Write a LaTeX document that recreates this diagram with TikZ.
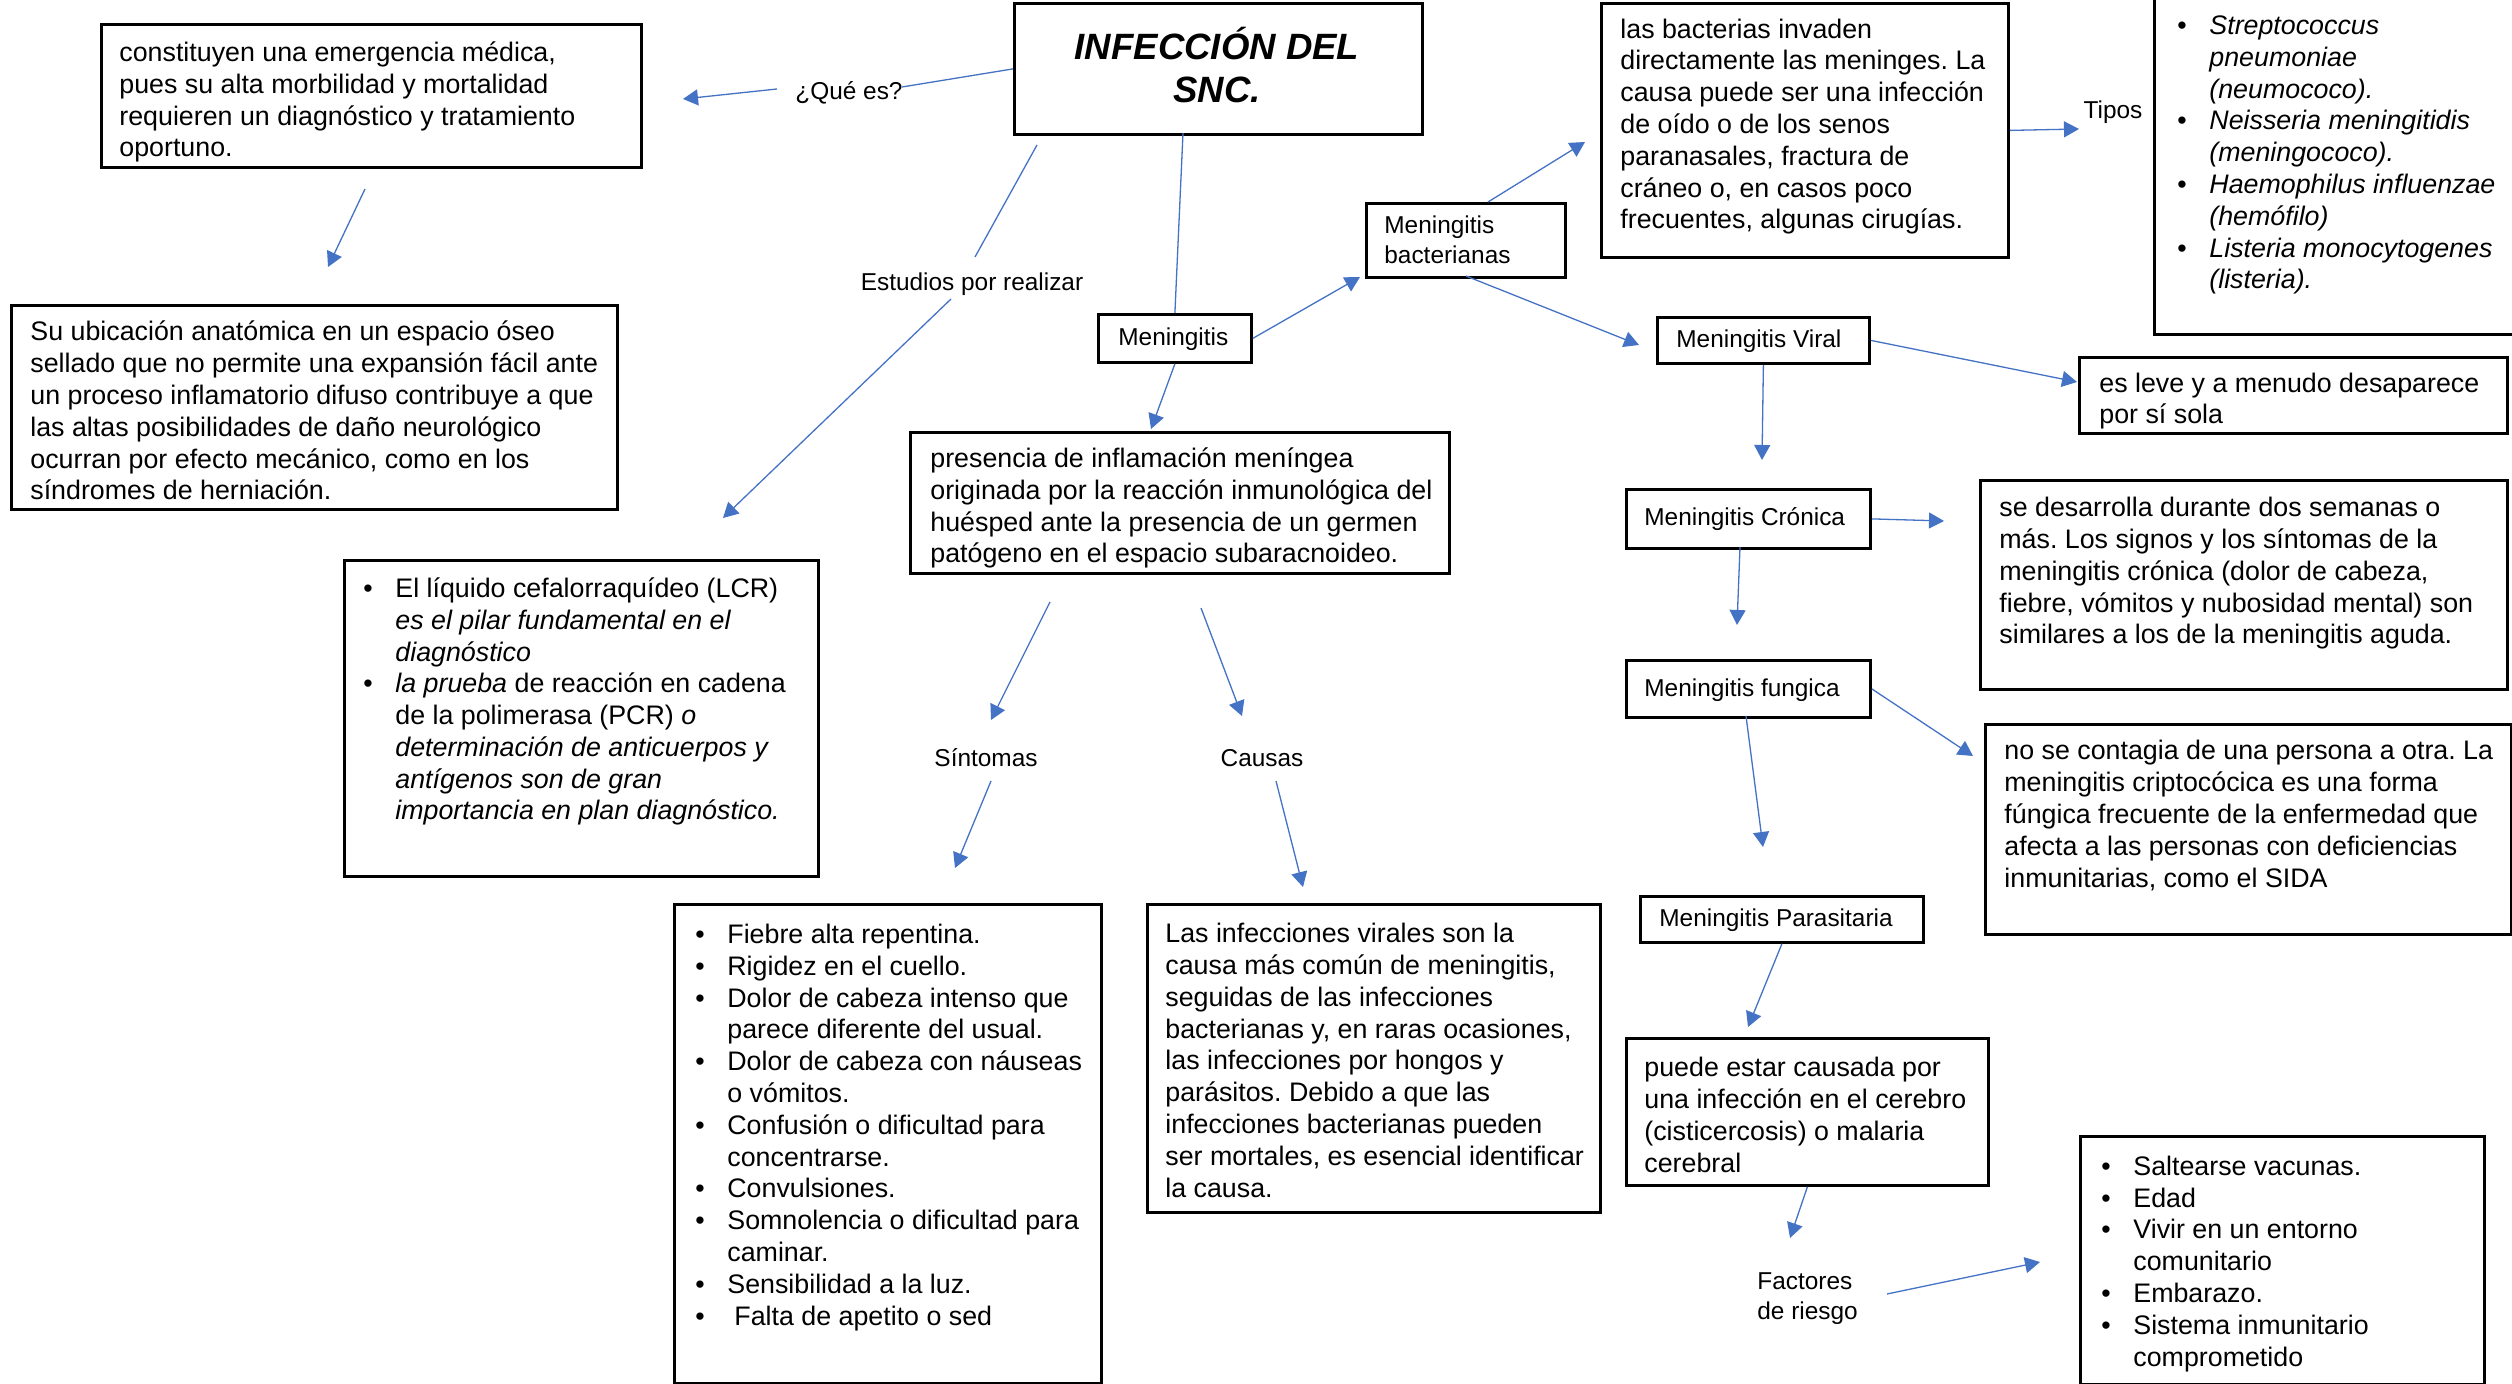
\documentclass[tikz,border=0pt]{standalone}
\usepackage{fontspec}
\setmainfont{Liberation Sans}
\usetikzlibrary{arrows.meta,calc}
\definecolor{conncol}{RGB}{68,114,196}
\newcommand\bodyfont{\fontsize{13.4pt}{15.9pt}\selectfont}
\newcommand\labfont{\fontsize{12.2pt}{15pt}\selectfont}
\newcommand\ttlfont{\fontsize{18.3pt}{21.5pt}\selectfont\bfseries\itshape}
\newcommand\bl{\makebox[16pt][l]{\textbullet}}
\newcommand\ind{\makebox[16pt][l]{}}
\newcommand\mkbox[5]{\node[boxy,minimum width={(#4-(#2))*0.5pt},minimum height={(#5-(#3))*0.5pt}] (#1) at (#2,#3) {};}
\tikzset{
  boxy/.style={draw=black,line width=1.4pt,fill=white,inner sep=0pt,anchor=north west},
  txt/.style={anchor=base west,inner sep=0pt,align=left,font=\bodyfont},
  lab/.style={anchor=base,inner sep=0pt,font=\labfont},
  labl/.style={anchor=base west,inner sep=0pt,align=left,font=\labfont},
  conn/.style={draw=conncol,line width=0.65pt},
  arr/.style={conn,-{Triangle[length=7.5pt,width=8pt]}}
}
\frenchspacing
\begin{document}
\frenchspacing
\begin{tikzpicture}[x=0.5pt,y=-0.5pt]
\clip (0,0) rectangle (2512,1384);
\fill[white] (0,0) rectangle (2512,1384);
% boxes
\mkbox{title}{1013}{2}{1421}{133}
\mkbox{bconst}{100}{23}{640}{166}
\mkbox{bubic}{10}{304}{616}{508}
\mkbox{bliq}{343}{559}{817}{875}
\mkbox{bmen}{1097}{313}{1250}{361}
\mkbox{bpres}{909}{431}{1448}{572}
\mkbox{bbact}{1365}{202}{1564}{276}
\mkbox{binv}{1600}{2}{2007}{256}
\mkbox{bstrep}{2153}{-10}{2530}{333}
\mkbox{bviral}{1656}{316}{1868}{362}
\mkbox{bleve}{2078}{356}{2506}{432}
\mkbox{bcron}{1625}{488}{1869}{547}
\mkbox{bdes}{1979}{479}{2506}{688}
\mkbox{bfung}{1625}{659}{1869}{716}
\mkbox{bcont}{1984}{723}{2510}{933}
\mkbox{bpara}{1639}{895}{1922}{941}
\mkbox{bpuede}{1625}{1037}{1987}{1184}
\mkbox{bsalt}{2079}{1135}{2483}{1383}
\mkbox{bfieb}{673}{903}{1100}{1382}
\mkbox{bcaus}{1146}{903}{1599}{1211}
% texts (anchored at the baseline of their last line)
\node[anchor=base,inner sep=0pt,align=center,font=\ttlfont] (ttl) at (1217,103) {INFECCIÓN DEL\\SNC.};
\node[txt] (tconst) at (119,157) {constituyen una emergencia médica,\\pues su alta morbilidad y mortalidad\\requieren un diagnóstico y tratamiento\\oportuno.};
\node[txt] (tubic) at (30,500) {Su ubicación anatómica en un espacio óseo\\sellado que no permite una expansión fácil ante\\un proceso inflamatorio difuso contribuye a que\\las altas posibilidades de daño neurológico\\ocurran por efecto mecánico, como en los\\síndromes de herniación.};
\node[txt] (tliq) at (363,820) {\bl El líquido cefalorraquídeo (LCR)\\\ind\textit{es el pilar fundamental en el}\\\ind\textit{diagnóstico}\\\bl\textit{la prueba} de reacción en cadena\\\ind de la polimerasa (PCR) \textit{o}\\\ind\textit{determinación de anticuerpos y}\\\ind\textit{antígenos son de gran}\\\ind\textit{importancia en plan diagnóstico.}};
\node[txt] (tpres) at (930,563) {presencia de inflamación meníngea\\originada por la reacción inmunológica del\\huésped ante la presencia de un germen\\patógeno en el espacio subaracnoideo.};
\node[txt] (tinv) at (1620,229) {las bacterias invaden\\directamente las meninges. La\\causa puede ser una infección\\de oído o de los senos\\paranasales, fractura de\\cráneo o, en casos poco\\frecuentes, algunas cirugías.};
\node[txt] (tstrep) at (2177,289) {\bl\textit{Streptococcus}\\\ind\textit{pneumoniae}\\\ind\textit{(neumococo).}\\\bl\textit{Neisseria meningitidis}\\\ind\textit{(meningococo).}\\\bl\textit{Haemophilus influenzae}\\\ind\textit{(hemófilo)}\\\bl\textit{Listeria monocytogenes}\\\ind\textit{(listeria).}};
\node[txt] (tleve) at (2099,424) {es leve y a menudo desaparece\\por sí sola};
\node[txt] (tdes) at (1999,644) {se desarrolla durante dos semanas o\\más. Los signos y los síntomas de la\\meningitis crónica (dolor de cabeza,\\fiebre, vómitos y nubosidad mental) son\\similares a los de la meningitis aguda.};
\node[txt] (tcont) at (2004,887) {no se contagia de una persona a otra. La\\meningitis criptocócica es una forma\\fúngica frecuente de la enfermedad que\\afecta a las personas con deficiencias\\inmunitarias, como el SIDA};
\node[txt] (tpuede) at (1644,1172) {puede estar causada por\\una infección en el cerebro\\(cisticercosis) o malaria\\cerebral};
\node[txt] (tsalt) at (2101,1366) {\bl Saltearse vacunas.\\\bl Edad\\\bl Vivir en un entorno\\\ind comunitario\\\bl Embarazo.\\\bl Sistema inmunitario\\\ind comprometido};
\node[txt] (tfieb) at (695,1325) {\bl Fiebre alta repentina.\\\bl Rigidez en el cuello.\\\bl Dolor de cabeza intenso que\\\ind parece diferente del usual.\\\bl Dolor de cabeza con náuseas\\\ind o vómitos.\\\bl Confusión o dificultad para\\\ind concentrarse.\\\bl Convulsiones.\\\bl Somnolencia o dificultad para\\\ind caminar.\\\bl Sensibilidad a la luz.\\\bl\hspace{3.5pt}Falta de apetito o sed};
\node[txt] (tcaus) at (1165,1197) {Las infecciones virales son la\\causa más común de meningitis,\\seguidas de las infecciones\\bacterianas y, en raras ocasiones,\\las infecciones por hongos y\\parásitos. Debido a que las\\infecciones bacterianas pueden\\ser mortales, es esencial identificar\\la causa.};
% small box labels
\node[labl] (lmen) at (1118,346) {Meningitis};
\node[labl] (lbact) at (1384,264) {Meningitis\\bacterianas};
\node[labl] (lviral) at (1676,348) {Meningitis Viral};
\node[labl] (lcron) at (1644,526) {Meningitis Crónica};
\node[labl] (lfung) at (1644,697) {Meningitis fungica};
\node[labl] (lpara) at (1659,927) {Meningitis Parasitaria};
% free labels
\node[lab] (que) at (849,100) {¿Qué es?};
\node[lab] (estud) at (972,291) {Estudios por realizar};
\node[lab] (tipos) at (2113,119) {Tipos};
\node[lab] (sint) at (986,767) {Síntomas};
\node[lab] (caus) at (1262,767) {Causas};
\node[labl] (fact) at (1757,1319) {Factores\\de riesgo};
% coordinates for free connector ends
\coordinate (qe1) at (902,87);
\coordinate (qe2) at (777,89);
\coordinate (qe3) at (683,99);
\coordinate (c1) at (365,189);
\coordinate (c2) at (328,267);
\coordinate (e1) at (1037,145);
\coordinate (e2) at (975,257);
\coordinate (e3) at (951,299);
\coordinate (e4) at (723,518);
\coordinate (t1) at (1183,133);
\coordinate (m1) at (1151,429);
\coordinate (m2) at (1360,277);
\coordinate (b1) at (1488,202);
\coordinate (b2) at (1585,142);
\coordinate (b3) at (1466,276);
\coordinate (b4) at (1639,345);
\coordinate (tp1) at (2079,129);
\coordinate (v1) at (2077,382);
\coordinate (v2) at (1762,460);
\coordinate (cr1) at (1944,521);
\coordinate (cr2) at (1740,547);
\coordinate (cr3) at (1737,625);
\coordinate (f1) at (1973,756);
\coordinate (f2) at (1746,716);
\coordinate (f3) at (1763,847);
\coordinate (p2) at (1748,1027);
\coordinate (pu2) at (1790,1238);
\coordinate (fr1) at (1887,1294);
\coordinate (fr2) at (2040,1262);
\coordinate (s1) at (1050,602);
\coordinate (s2) at (991,720);
\coordinate (ca1) at (1201,608);
\coordinate (ca2) at (1242,716);
\coordinate (s3) at (991,781);
\coordinate (s4) at (955,868);
\coordinate (ca3) at (1276,781);
\coordinate (ca4) at (1303,887);
% connectors
\draw[conn] (title.west) -- (qe1);
\draw[arr] (qe2) -- (qe3);
\draw[arr] (c1) -- (c2);
\draw[conn] (e1) -- (e2);
\draw[arr] (e3) -- (e4);
\draw[conn] (t1) -- (bmen.north);
\draw[arr] (bmen.south) -- (m1);
\draw[arr] (bmen.east) -- (m2);
\draw[arr] (b1) -- (b2);
\draw[arr] (b3) -- (b4);
\draw[arr] (binv.east) -- (tp1);
\draw[arr] (bviral.east) -- (v1);
\draw[arr] (bviral.south) -- (v2);
\draw[arr] (bcron.east) -- (cr1);
\draw[arr] (cr2) -- (cr3);
\draw[arr] (bfung.east) -- (f1);
\draw[arr] (f2) -- (f3);
\draw[arr] (bpara.south) -- (p2);
\draw[arr] (bpuede.south) -- (pu2);
\draw[arr] (fr1) -- (fr2);
\draw[arr] (s1) -- (s2);
\draw[arr] (ca1) -- (ca2);
\draw[arr] (s3) -- (s4);
\draw[arr] (ca3) -- (ca4);
\end{tikzpicture}
\end{document}
